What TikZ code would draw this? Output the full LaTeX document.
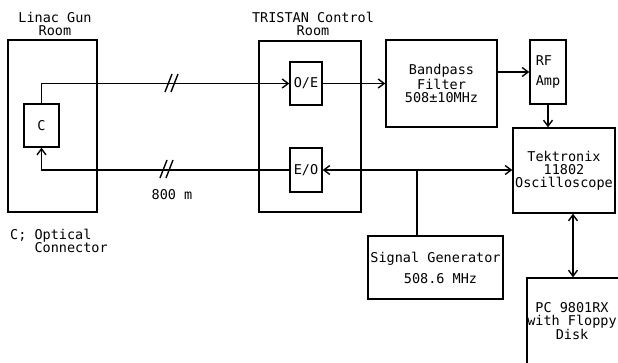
\documentclass[tikz,border=0pt]{standalone}
\usepackage{fontspec}
\setmonofont{DejaVu Sans Mono}
\usetikzlibrary{arrows.meta}
\begin{document}
\begin{tikzpicture}[x=1pt,y=-1pt,
  txt/.style={font=\ttfamily\fontsize{13.5}{13}\selectfont,inner sep=0pt,align=center},
  box/.style={draw,line width=1.4pt,inner sep=0pt,anchor=center,txt},
  ln/.style={line width=1.4pt},
  arr/.style={ln,-{Straight Barb[length=6pt,width=9pt]}},
  darr/.style={ln,{Straight Barb[length=6pt,width=9pt]}-{Straight Barb[length=6pt,width=9pt]}},
]
\useasboundingbox (0,0) rectangle (618,363);
\clip (0,0) rectangle (618,363);
% rooms
\node[box,minimum width=89pt,minimum height=172pt] (linac) at (52.5,126) {};
\node[box,minimum width=102pt,minimum height=171pt] (tristan) at (310,126.5) {};
\node[txt] (linaclbl) at (55,24) {Linac Gun\\Room};
\node[txt] (tristanlbl) at (313,24) {TRISTAN Control\\Room};
% components
\node[box,minimum width=35pt,minimum height=43pt] (c) at (41.5,125.5) {C};
\node[box,minimum width=32pt,minimum height=43pt] (oe) at (306,83.5) {O/E};
\node[box,minimum width=32pt,minimum height=44pt] (eo) at (306,170) {E/O};
\node[box,minimum width=111pt,minimum height=87pt] (bp) at (441.5,83.5) {Bandpass\\Filter\\508±10MHz};
\node[box,minimum width=36pt,minimum height=64pt,align=left] (rf) at (548,72) {RF\\[7pt]Amp};
\node[box,minimum width=102pt,minimum height=85pt] (tek) at (564,170.5) {Tektronix\\11802\\Oscilloscope};
\node[box,minimum width=135pt,minimum height=63pt] (sg) at (435.5,267.5) {Signal Generator\\[8pt]\hspace*{10pt}508.6 MHz};
\node[box,minimum width=120pt,minimum height=124pt] (pc) at (587,340) {};
\node[txt] (pclbl) at (572,321) {PC 9801RX\\with Floppy\\Disk};
% labels
\node[txt] (dist) at (172,195) {800 m};
\node[txt,align=left] (legend) at (10,242) [anchor=west] {C; Optical\\\phantom{C; }Connector};
% connectors
\draw[arr] (c.north) |- (oe.west);
\draw[arr] (eo.west) -| (c.south);
\draw[arr] (oe.east) -- (bp.west |- oe.east);
\draw[arr] (bp.east |- rf.west) -- (rf.west);
\draw[arr] (rf.south) -- (rf.south |- tek.north);
\draw[darr] (eo.east) -- (eo.east -| tek.west);
\coordinate (j) at (417,170);
\draw[ln] (sg.north -| j) -- (j);
\draw[darr] (tek.south) ++(9,0) coordinate (ts) -- (ts |- pc.north);
% break marks
\draw[ln] (165,92) -- (172,74) (171,92) -- (178,74);
\draw[ln] (160,178) -- (167,160) (166,178) -- (173,160);
\end{tikzpicture}
\end{document}
